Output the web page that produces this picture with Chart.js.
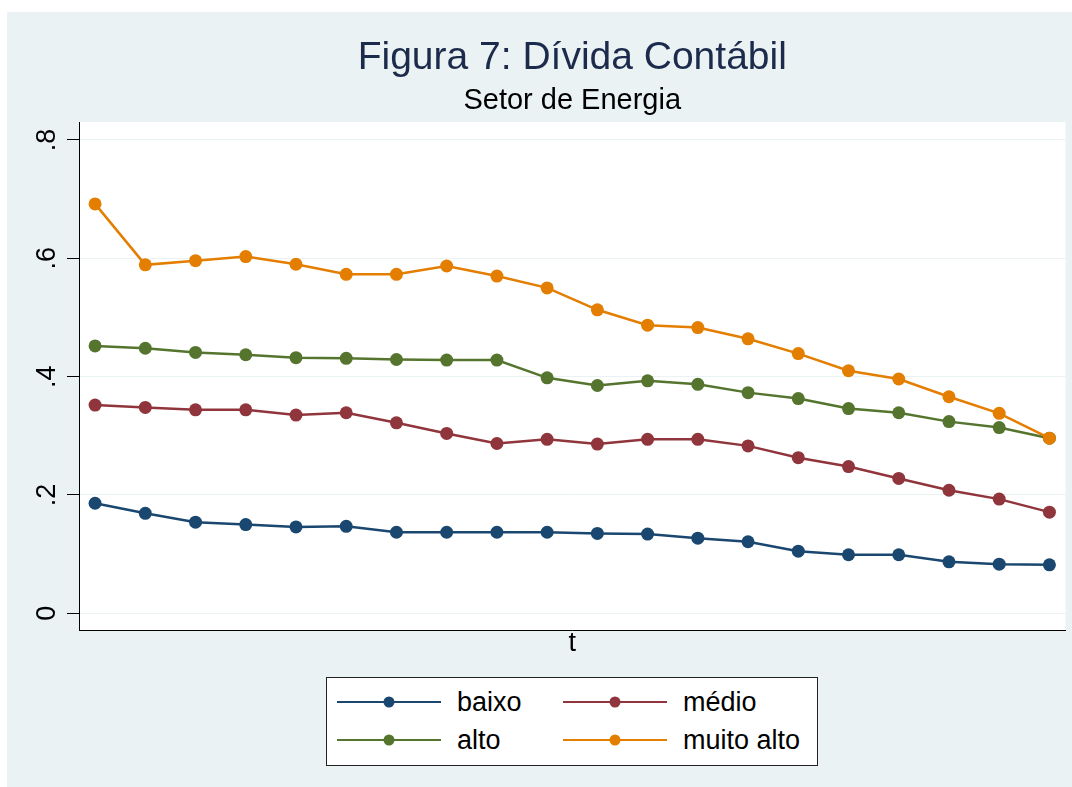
<!DOCTYPE html>
<html lang="pt-BR">
<head>
<meta charset="utf-8">
<title>Figura 7: Dívida Contábil</title>
<script src="https://cdn.jsdelivr.net/npm/chart.js@4.4.0/dist/chart.umd.min.js"></script>
<style>
  html, body { margin: 0; padding: 0; background: #fff; }
  body { width: 1072px; height: 787px; position: relative; overflow: hidden;
         font-family: "Liberation Sans", Arial, sans-serif; }
  #grafico { position: absolute; left: 0; top: 0; }
  #legenda { position: absolute; left: 326px; top: 677px; width: 490px; height: 87px;
             background: #fff; border: 1px solid #222; }
  .item { position: absolute; height: 30px; display: flex; align-items: center;
          font-size: 27px; color: #000; white-space: nowrap; }
  .item svg { display: block; margin-right: 16px; }
</style>
</head>
<body>
<canvas id="grafico" width="1072" height="787"></canvas>
<div id="legenda"></div>
<script>
// dados (t = 1..20)
const periodos = [1, 2, 3, 4, 5, 6, 7, 8, 9, 10, 11, 12, 13, 14, 15, 16, 17, 18, 19, 20];
const baixo = [0.186, 0.169, 0.154, 0.150, 0.146, 0.147, 0.137, 0.137, 0.137, 0.137,
               0.135, 0.134, 0.127, 0.121, 0.105, 0.099, 0.099, 0.087, 0.083, 0.082];
const medio = [0.352, 0.348, 0.344, 0.344, 0.335, 0.339, 0.322, 0.304, 0.287, 0.294,
               0.286, 0.294, 0.294, 0.283, 0.263, 0.248, 0.228, 0.208, 0.193, 0.171];
const alto = [0.452, 0.448, 0.441, 0.437, 0.432, 0.431, 0.429, 0.428, 0.428, 0.398,
              0.385, 0.393, 0.387, 0.373, 0.363, 0.346, 0.339, 0.324, 0.314, 0.296];
const muitoAlto = [0.692, 0.589, 0.596, 0.603, 0.590, 0.573, 0.573, 0.587, 0.570, 0.550,
                   0.513, 0.487, 0.483, 0.464, 0.439, 0.410, 0.396, 0.366, 0.338, 0.296];

const nomesSeries = ['baixo', 'médio', 'alto', 'muito alto'];
const valoresSeries = [baixo, medio, alto, muitoAlto];
const coresSeries = ['#1a476f', '#90353b', '#55752f', '#e37e00'];

const yTicks = [0, 0.2, 0.4, 0.6, 0.8];
const yTickLabels = ['0', '.2', '.4', '.6', '.8'];

const fonte = '"Liberation Sans", Arial, sans-serif';

// fundo estilo Stata: margem branca, região azulada e área do gráfico branca
const fundo = {
    id: 'fundo',
    beforeDraw(chart) {
        const { ctx, chartArea: a } = chart;
        ctx.save();
        ctx.fillStyle = '#ffffff';
        ctx.fillRect(0, 0, chart.width, chart.height);
        ctx.fillStyle = '#eaf2f3';
        ctx.fillRect(7, 12, chart.width - 7, chart.height - 12);
        ctx.fillStyle = '#ffffff';
        ctx.fillRect(a.left, a.top, a.right - a.left, a.bottom - a.top);
        ctx.restore();
    }
};

const datasets = nomesSeries.map((nome, i) => ({
    label: nome,
    data: valoresSeries[i].map((v, j) => ({ x: periodos[j], y: v })),
    borderColor: coresSeries[i],
    backgroundColor: coresSeries[i],
    pointBackgroundColor: coresSeries[i],
    pointBorderWidth: 0,
    pointRadius: 6.5,
    borderWidth: 2.5,
    tension: 0,
    order: nomesSeries.length - i // a última série fica por cima
}));

new Chart(document.getElementById('grafico'), {
    type: 'line',
    data: { datasets },
    options: {
        responsive: false,
        animation: false,
        layout: { padding: { left: 0, right: 6, top: 0, bottom: 130 } },
        plugins: {
            legend: { display: false },
            tooltip: { enabled: false },
            // fullSize: false -> título centralizado sobre a área do gráfico
            title: {
                display: true,
                fullSize: false,
                text: 'Figura 7: Dívida Contábil',
                color: '#1c2b4c',
                font: { family: fonte, size: 39, weight: 'normal', lineHeight: 1 },
                padding: { top: 39, bottom: 0 }
            },
            subtitle: {
                display: true,
                fullSize: false,
                text: 'Setor de Energia',
                color: '#000000',
                font: { family: fonte, size: 29, weight: 'normal', lineHeight: 1 },
                padding: { top: 8.5, bottom: 6.5 }
            }
        },
        scales: {
            x: {
                type: 'linear',
                min: 0.68,
                max: 20.32,
                grid: { display: false, drawTicks: false },
                border: { display: true, color: '#000000', width: 1 },
                ticks: { display: false },
                title: {
                    display: true,
                    text: 't',
                    color: '#000000',
                    font: { family: fonte, size: 27, lineHeight: 1 },
                    padding: { top: 0, bottom: 0 }
                }
            },
            y: {
                min: -0.0282,
                max: 0.8304,
                afterBuildTicks: (s) => { s.ticks = yTicks.map(v => ({ value: v })); },
                afterFit: (s) => { s.width = 79; },
                grid: { color: '#eaf2f3', tickColor: '#000000', tickLength: 12, lineWidth: 1 },
                border: { display: true, color: '#000000', width: 1 },
                ticks: {
                    minRotation: 90,
                    maxRotation: 90,
                    crossAlign: 'center',
                    padding: 8,
                    color: '#000000',
                    font: { family: fonte, size: 27 },
                    callback: (v, i) => yTickLabels[i]
                }
            }
        }
    },
    plugins: [fundo]
});

// legenda em duas colunas, dentro de uma caixa
const legenda = document.getElementById('legenda');
const colunasX = [10, 236];
const linhasY = [24, 62];
nomesSeries.forEach((nome, i) => {
    const item = document.createElement('div');
    item.className = 'item';
    item.style.left = colunasX[i % 2] + 'px';
    item.style.top = (linhasY[Math.floor(i / 2)] - 15) + 'px';
    item.innerHTML =
        `<svg width="104" height="16"><line x1="0" y1="8" x2="104" y2="8" stroke="${coresSeries[i]}" stroke-width="2"/>` +
        `<circle cx="52" cy="8" r="5.5" fill="${coresSeries[i]}"/></svg><span>${nome}</span>`;
    legenda.appendChild(item);
});
</script>
</body>
</html>
